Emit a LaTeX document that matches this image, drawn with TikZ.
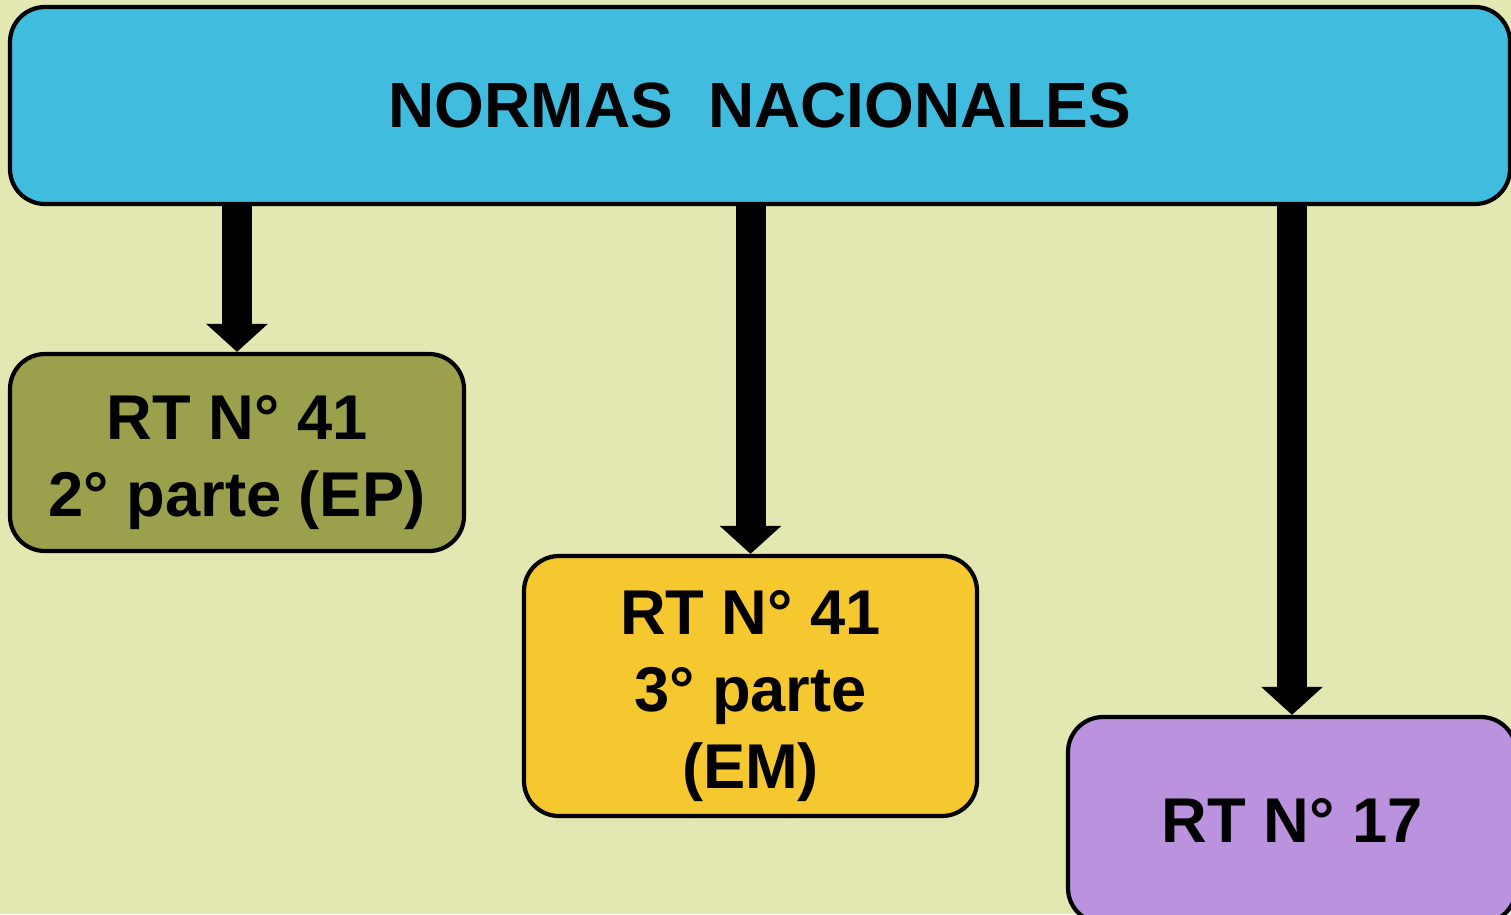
\documentclass[tikz,border=0pt]{standalone}
\usepackage{fontspec}
\setmainfont{Liberation Sans}
\usetikzlibrary{arrows.meta}
\definecolor{fondo}{HTML}{E3E8B2}
\definecolor{celeste}{HTML}{40BDDE}
\definecolor{oliva}{HTML}{9AA04B}
\definecolor{amarillo}{HTML}{F6C830}
\definecolor{lila}{HTML}{BB92DE}
\tikzset{
  caja/.style={draw=black, line width=1.2pt, rounded corners=0.35cm,
    inner sep=0pt, align=center, font=\bfseries\fontsize{18}{22}\selectfont},
  texto/.style={inner sep=0pt, align=center, font=\bfseries\fontsize{18}{22}\selectfont},
  flecha/.style={line width=0.3cm, -{Triangle[width=0.6cm,length=0.28cm]}}
}
\begin{document}
\begin{tikzpicture}
  \fill[fondo] (0,0) rectangle (15.11,9.14);
  \useasboundingbox (0,0) rectangle (15.11,9.14);
  \clip (0,0) rectangle (15.11,9.14);
  % cajas
  \node[caja, fill=celeste, minimum width=15cm, minimum height=1.97cm,
        font=\bfseries\fontsize{18.2}{22}\selectfont] (normas) at (7.60,8.085) {NORMAS\ \ NACIONALES};
  \node[caja, fill=oliva, minimum width=4.54cm, minimum height=1.97cm] (ep) at (2.37,4.615) {};
  \node[texto] (eptxt) at ([yshift=-0.1cm]ep.center) {RT N° 41\\2° parte (EP)};
  \node[caja, fill=amarillo, minimum width=4.53cm, minimum height=2.6cm] (em) at (7.505,2.28) {};
  \node[texto] (emtxt) at ([yshift=-0.1cm]em.center) {RT N° 41\\3° parte\\(EM)};
  \node[caja, fill=lila, minimum width=4.48cm, minimum height=2.06cm] (rt) at (12.92,0.94) {RT N° 17};
  % flechas
  \draw[flecha] (normas.south -| ep.north) -- (ep.north);
  \draw[flecha] (normas.south -| em.north) -- (em.north);
  \draw[flecha] (normas.south -| rt.north) -- (rt.north);
\end{tikzpicture}
\end{document}
